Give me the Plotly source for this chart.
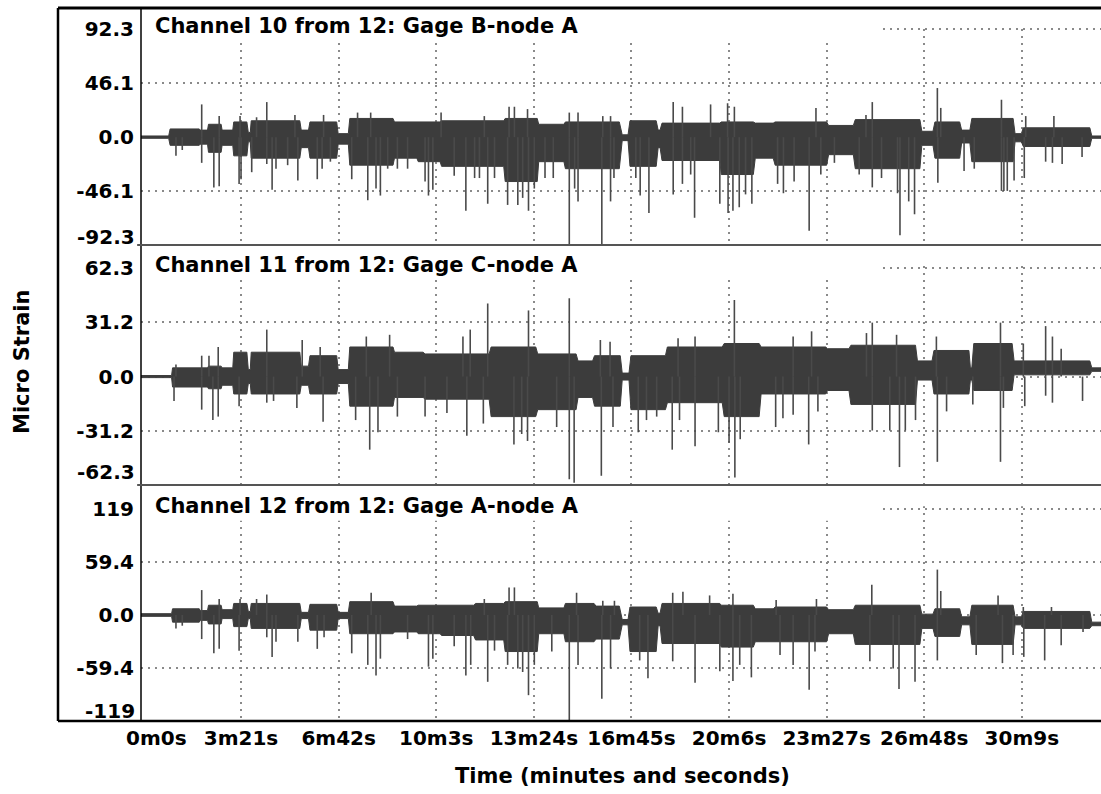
import plotly.graph_objects as go

# ---------------- data (time in seconds, strain in micro strain) ----------------
tick_seconds = [0, 201, 402, 603, 804, 1005, 1206, 1407, 1608, 1809]
tick_labels = ["0m0s", "3m21s", "6m42s", "10m3s", "13m24s", "16m45s",
               "20m6s", "23m27s", "26m48s", "30m9s"]

titles = ["Channel 10 from 12: Gage B-node A",
          "Channel 11 from 12: Gage C-node A",
          "Channel 12 from 12: Gage A-node A"]

ch10_ticks = [92.3, 46.1, 0.0, -46.1, -92.3]
ch10_ticktext = ["92.3", "46.1", "0.0", "-46.1", "-92.3"]
ch11_ticks = [62.3, 31.2, 0.0, -31.2, -62.3]
ch11_ticktext = ["62.3", "31.2", "0.0", "-31.2", "-62.3"]
ch12_ticks = [119, 59.4, 0.0, -59.4, -119]
ch12_ticktext = ["119", "59.4", "0.0", "-59.4", "-119"]

# dense signal band, read as plateaus: start time, end time, upper level, lower level
ch10_seg_start = [-5, 55, 117, 134, 162, 186, 216, 222, 325, 343, 401, 425, 517, 566, 614, 745, 814, 869,
                  986, 1002, 1060, 1068, 1190, 1260, 1301, 1411, 1466, 1603, 1630, 1685, 1706, 1795, 1812, 1953]
ch10_seg_end = [52, 115, 132, 160, 184, 213, 220, 322, 340, 398, 422, 514, 563, 611, 742, 811, 866, 980,
                998, 1056, 1064, 1187, 1256, 1297, 1407, 1462, 1599, 1626, 1681, 1702, 1791, 1808, 1949, 1972]
ch10_seg_top = [1, 7, 6, 11, 6, 13, 4, 14, 6, 13, 3, 16, 13, 13, 14, 16, 11, 13,
                2, 14, 6, 12, 13, 12, 13, 10, 15, 5, 13, 6, 16, 3, 8, 1]
ch10_seg_bot = [-1, -7, -6, -13, -7, -16, -4, -18, -9, -18, -6, -24, -18, -21, -25, -38, -21, -27,
                -3, -25, -9, -20, -32, -18, -24, -15, -27, -7, -18, -5, -21, -4, -8, -1]
# isolated spikes: time, peak value
ch10_spike_t = [120, 156, 199, 254, 233, 312, 371, 441, 468, 613, 702, 753, 764, 791, 877, 895, 946, 962,
                1091, 1110, 1168, 1203, 1217, 1385, 1488, 1501, 1635, 1642, 1767, 1817, 1875,
                67, 80, 120, 145, 156, 197, 201, 223, 254, 265, 273, 318, 297, 358, 368, 385, 429, 462,
                479, 488, 503, 523, 544, 580, 587, 596, 640, 664, 682, 692, 709, 723, 750, 771, 781, 793,
                805, 827, 844, 877, 888, 895, 944, 962, 969, 1014, 1023, 1041, 1091, 1110, 1127, 1135,
                1187, 1204, 1214, 1227, 1240, 1253, 1306, 1318, 1340, 1371, 1395, 1423, 1474, 1501,
                1520, 1553, 1558, 1576, 1588, 1636, 1690, 1711, 1767, 1772, 1779, 1793, 1814, 1858,
                1872, 1892, 1933]
ch10_spike_v = [28, 18, 18, 30, 17, 19, 19, 21, 21, 21, 18, 26, 26, 24, 21, 21, 18, 18,
                30, 26, 28, 29, 26, 25, 19, 30, 42, 25, 32, 18, 18,
                -16, -11, -22, -43, -42, -40, -36, -30, -23, -45, -27, -37, -24, -36, -27, -21, -36, -54,
                -44, -50, -27, -27, -27, -38, -50, -45, -33, -63, -35, -35, -57, -35, -58, -58, -52, -63,
                -44, -35, -35, -92, -44, -55, -92, -55, -35, -35, -50, -65, -49, -40, -32, -69,
                -57, -65, -63, -60, -49, -57, -40, -48, -38, -80, -32, -22, -32, -43,
                -35, -48, -84, -55, -66, -39, -29, -27, -46, -46, -46, -37, -35, -21,
                -22, -23, -17]

ch11_seg_start = [-5, 60, 117, 134, 162, 186, 216, 222, 325, 343, 401, 425, 517, 580, 716, 812, 895, 929,
                  986, 1004, 1079, 1196, 1272, 1409, 1457, 1594, 1628, 1703, 1710, 1793, 1953]
ch11_seg_end = [58, 115, 132, 160, 184, 213, 220, 322, 340, 398, 422, 514, 576, 712, 808, 891, 925, 982,
                1000, 1075, 1192, 1268, 1405, 1453, 1590, 1624, 1700, 1706, 1789, 1949, 1972]
ch11_seg_top = [0.6, 5, 5, 6, 5, 14, 4, 14, 6, 12, 4, 17, 14, 13, 17, 13, 9, 12,
                2, 12, 17, 19, 17, 16, 18, 9, 15, 5, 19, 9, 5]
ch11_seg_bot = [-0.6, -6, -6, -7, -5, -10, -4, -10, -5, -10, -4, -17, -12, -13, -23, -19, -12, -17,
                -2, -19, -15, -23, -10, -8, -16, -2, -10, -2, -8, 1, 3]
ch11_spike_t = [67, 120, 135, 154, 254, 327, 364, 459, 507, 658, 673, 709, 793, 877, 941, 961, 1101, 1136,
                1217, 1338, 1376, 1489, 1501, 1551, 1633, 1765, 1812, 1858, 1872, 1890,
                63, 120, 143, 154, 197, 254, 268, 316, 370, 437, 466, 483, 523, 580, 625, 666, 700, 763,
                779, 791, 851, 877, 887, 943, 967, 1019, 1036, 1057, 1089, 1104, 1136, 1184, 1206, 1218,
                1229, 1302, 1317, 1338, 1370, 1389, 1501, 1537, 1557, 1569, 1590, 1635, 1654, 1708, 1765,
                1771, 1815, 1858, 1872, 1934]
ch11_spike_v = [7, 12, 12, 17, 27, 21, 17, 23, 24, 23, 27, 42, 38, 45, 21, 20, 22, 23,
                44, 23, 26, 25, 31, 24, 23, 31, 19, 29, 23, 16,
                -14, -19, -25, -23, -17, -15, -14, -18, -26, -25, -42, -32, -23, -23, -21, -34, -27, -39,
                -33, -37, -29, -59, -61, -57, -29, -32, -25, -23, -42, -25, -40, -32, -38, -58,
                -36, -29, -24, -22, -39, -20, -31, -31, -52, -31, -25, -49, -20, -16, -49,
                -18, -17, -11, -15, -14]

ch12_seg_start = [-5, 60, 117, 134, 162, 186, 216, 222, 325, 343, 401, 425, 517, 566, 614, 684, 745, 814,
                  869, 932, 986, 1002, 1060, 1068, 1190, 1260, 1301, 1411, 1466, 1603, 1630, 1685, 1706,
                  1795, 1812, 1953]
ch12_seg_end = [58, 115, 132, 160, 184, 213, 220, 322, 340, 398, 422, 514, 563, 611, 680, 742, 811, 866,
                928, 980, 998, 1056, 1064, 1187, 1256, 1297, 1407, 1462, 1599, 1626, 1681, 1702, 1791,
                1808, 1949, 1972]
ch12_seg_top = [1.5, 7, 5, 11, 6, 13, 4, 13, 3, 12, 3, 15, 10, 11, 11, 13, 15, 8,
                13, 10, -5, 9, 2, 13, 11, 7, 9, 6, 11, 1, 7, -2, 11, -2, 4, -8]
ch12_seg_bot = [-1.5, -8, -6, -10, -4, -13, -4, -15, -4, -17, -4, -21, -19, -21, -23, -28, -41, -21,
                -30, -27, -11, -41, -12, -32, -36, -30, -30, -21, -33, -15, -24, -11, -33, -11, -15, -12]
ch12_spike_t = [120, 156, 199, 254, 233, 469, 702, 753, 764, 892, 946, 970, 1090, 1111, 1166, 1214, 1303,
                1386, 1500, 1635, 1642, 1760, 1812, 1870,
                67, 80, 120, 145, 156, 197, 254, 265, 273, 318, 358, 372, 429, 462, 479, 488, 544, 587,
                596, 640, 664, 674, 709, 723, 750, 771, 781, 793, 805, 841, 877, 895, 944, 962, 1022,
                1039, 1090, 1136, 1187, 1214, 1228, 1252, 1311, 1338, 1371, 1383, 1496, 1544, 1556,
                1589, 1635, 1715, 1769, 1791, 1813, 1856, 1890, 1935]
ch12_spike_v = [28, 18, 18, 23, 18, 25, 18, 31, 31, 25, 16, 16, 25, 26, 22, 24, 17,
                18, 34, 51, 27, 22, 9, 9,
                -15, -12, -27, -43, -38, -40, -25, -47, -30, -30, -38, -25, -43, -56, -68, -49, -27, -58,
                -49, -35, -68, -56, -75, -40, -56, -60, -64, -90, -56, -41, -119, -56, -94, -60, -51,
                -71, -52, -76, -63, -74, -56, -70, -45, -56, -84, -41, -52, -60, -83,
                -75, -51, -45, -54, -45, -47, -51, -34, -19]

# ---------------- styling constants ----------------
FONT = "DejaVu Sans"
BAND = "#3c3c3c"
SPIKE = "#4a4a4a"
GRID = "#8a8a8a"
W, H = 1101, 794
L, T, B = 141, 8, 73
x_range = [-5, 1972]
y_ranges = [(-92.3, 110.5), (-62.3, 75.6), (-119, 146)]
domains = [(0.6676, 1.0), (0.3310, 0.6676), (0.0, 0.3310)]
title_shift = [-18, -20, -21]
bottom_label_shift = [8, 13, 10]
cut_x = 1513  # seconds where the top dotted line begins

panels = [
    (ch10_seg_start, ch10_seg_end, ch10_seg_top, ch10_seg_bot, ch10_spike_t, ch10_spike_v,
     ch10_ticks, ch10_ticktext),
    (ch11_seg_start, ch11_seg_end, ch11_seg_top, ch11_seg_bot, ch11_spike_t, ch11_spike_v,
     ch11_ticks, ch11_ticktext),
    (ch12_seg_start, ch12_seg_end, ch12_seg_top, ch12_seg_bot, ch12_spike_t, ch12_spike_v,
     ch12_ticks, ch12_ticktext),
]

fig = go.Figure()
shapes = []
annotations = []
layout = {}

for i, (s0, s1, top, bot, st, sv, ticks, ticktext) in enumerate(panels):
    xa = "x" if i == 0 else f"x{i + 1}"
    ya = "y" if i == 0 else f"y{i + 1}"
    xkey = "xaxis" if i == 0 else f"xaxis{i + 1}"
    ykey = "yaxis" if i == 0 else f"yaxis{i + 1}"

    # dense band outline built from the plateaus
    ux, uy = [], []
    for a, b, u in zip(s0, s1, top):
        ux += [a, b]
        uy += [u, u]
    lx, ly = [], []
    for a, b, d in zip(s0, s1, bot):
        lx += [a, b]
        ly += [d, d]
    fig.add_trace(go.Scatter(
        x=ux + lx[::-1], y=uy + ly[::-1],
        mode="lines", fill="toself", fillcolor=BAND,
        line=dict(color=BAND, width=1), xaxis=xa, yaxis=ya,
        hoverinfo="skip", showlegend=False))
    # spikes
    sx, sy = [], []
    for tt, vv in zip(st, sv):
        sx += [tt, tt, None]
        sy += [0, vv, None]
    fig.add_trace(go.Scatter(
        x=sx, y=sy, mode="lines", line=dict(color=SPIKE, width=1.6),
        xaxis=xa, yaxis=ya, hoverinfo="skip", showlegend=False))

    lo, hi = y_ranges[i]
    layout[xkey] = dict(
        domain=[0, 1], range=x_range, anchor=ya, matches=None if i == 0 else "x",
        tickvals=tick_seconds[1:], ticktext=tick_labels[1:],
        showticklabels=(i == 2), ticks="", showline=False, zeroline=False,
        showgrid=True, gridcolor=GRID, griddash="2px,5px", gridwidth=1.6,
        tickfont=dict(family=FONT, size=20, color="black", weight="bold"),
        ticklabelstandoff=3)
    layout[ykey] = dict(
        domain=list(domains[i]), range=[lo, hi], anchor=xa,
        tickvals=ticks[:-1], ticktext=ticktext[:-1], ticks="",
        showline=False, zeroline=False, showgrid=True, gridcolor=GRID,
        griddash="2px,5px", gridwidth=1.6, ticklabelstandoff=6,
        tickfont=dict(family=FONT, size=20, color="black", weight="bold"))

    span = hi - lo
    # hide grid behind the title area
    shapes.append(dict(type="rect", xref=xa, yref=ya, x0=x_range[0], x1=cut_x,
                       y0=ticks[0] * 0.89, y1=hi, fillcolor="white", line_width=0,
                       layer="between"))
    shapes.append(dict(type="rect", xref=xa, yref=ya, x0=cut_x, x1=x_range[1],
                       y0=ticks[0] + 0.012 * span, y1=hi, fillcolor="white", line_width=0,
                       layer="between"))
    # panel title
    annotations.append(dict(text=titles[i], xref="paper", x=(153 - L) / (W - L), xanchor="left",
                            yref=f"{ya} domain", y=1, yanchor="middle", yshift=title_shift[i],
                            showarrow=False,
                            font=dict(family=FONT, size=21, color="black", weight="bold")))
    # bottom tick label (sits just above the lower edge)
    annotations.append(dict(text=ticktext[-1], xref="paper", x=0, xanchor="right", xshift=-4,
                            yref=ya, y=ticks[-1], yanchor="middle", yshift=bottom_label_shift[i],
                            showarrow=False,
                            font=dict(family=FONT, size=20, color="black", weight="bold")))

# first time label
annotations.append(dict(text=tick_labels[0], xref="x3", x=tick_seconds[0], xanchor="center", xshift=13,
                        yref="paper", y=0, yanchor="middle", yshift=-17, showarrow=False,
                        font=dict(family=FONT, size=20, color="black", weight="bold")))
# axis titles
annotations.append(dict(text="Micro Strain", xref="paper", x=(22 - L) / (W - L), xanchor="center",
                        yref="paper", y=(721 - 362) / 713, yanchor="middle", textangle=-90,
                        showarrow=False,
                        font=dict(family=FONT, size=21, color="black", weight="bold")))
annotations.append(dict(text="Time (minutes and seconds)", xref="paper", x=(622 - L) / (W - L),
                        xanchor="center", yref="paper", y=0, yanchor="middle", yshift=-55,
                        showarrow=False,
                        font=dict(family=FONT, size=21, color="black", weight="bold")))

# frame lines
xl = (58 - L) / (W - L)
shapes += [
    dict(type="line", xref="paper", yref="paper", x0=xl, x1=1.01, y0=1, y1=1,
         line=dict(color="black", width=3), layer="above"),
    dict(type="line", xref="paper", yref="paper", x0=xl, x1=1.01, y0=0, y1=0,
         line=dict(color="black", width=2.5), layer="above"),
    dict(type="line", xref="paper", yref="paper", x0=xl, x1=xl, y0=0, y1=1,
         line=dict(color="black", width=2.5), layer="above"),
    dict(type="line", xref="paper", yref="paper", x0=0, x1=0, y0=0, y1=1,
         line=dict(color="black", width=1.5), layer="above"),
]
for d in domains[:2]:
    shapes.append(dict(type="line", xref="paper", yref="paper", x0=-0.004, x1=1.01, y0=d[0], y1=d[0],
                       line=dict(color="#555555", width=2), layer="above"))

fig.update_layout(
    width=W, height=H,
    margin=dict(l=L, r=0, t=T, b=B, pad=0),
    paper_bgcolor="white", plot_bgcolor="white",
    showlegend=False, hovermode=False,
    shapes=shapes, annotations=annotations,
    **layout)

fig.write_html("out.html")
